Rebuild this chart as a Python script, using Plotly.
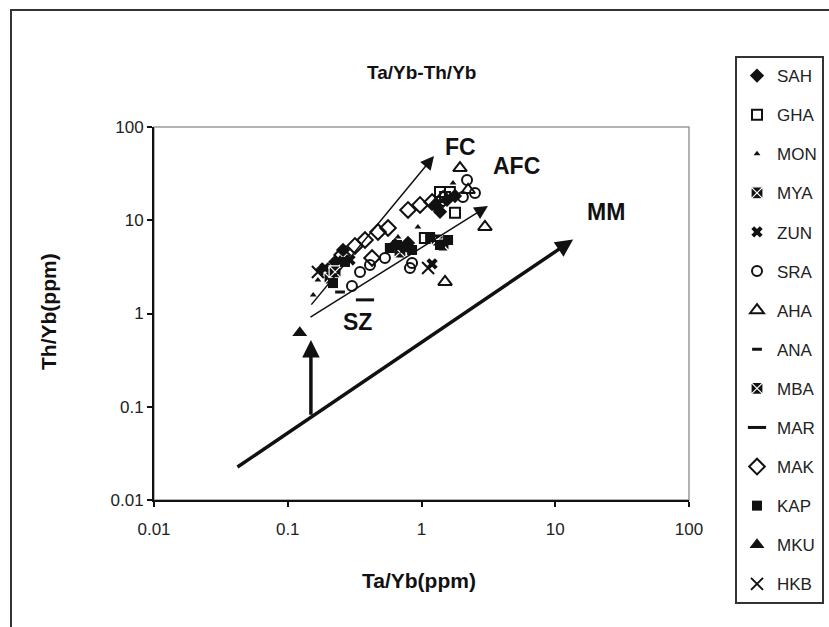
import math
import plotly.graph_objects as go

# ---------------- data (Ta/Yb, Th/Yb) ----------------
SAH_x = [0.18, 0.226, 0.259, 0.634, 0.715, 0.793, 1.26, 1.55, 1.78, 1.375]
SAH_y = [2.93, 3.57, 4.8, 5.43, 4.8, 5.7, 14.6, 16.5, 18.2, 12.3]
GHA_x = [1.375, 1.63, 1.78, 1.5, 1.06]
GHA_y = [20.1, 20.1, 12.0, 17.8, 6.45]
MON_x = [0.155, 0.168, 0.183, 0.94, 1.72, 0.246, 0.667]
MON_y = [1.58, 2.29, 3.23, 8.47, 25.1, 3.94, 6.61]
MYA_x = [0.207, 1.31, 0.69]
MYA_y = [2.4, 6.14, 4.56]
ZUN_x = [1.2, 0.19, 0.292]
ZUN_y = [3.4, 3.08, 3.75]
SRA_x = [0.302, 0.347, 0.533, 0.82, 0.85, 2.19, 2.51, 2.04, 0.412]
SRA_y = [1.97, 2.79, 3.94, 3.08, 3.48, 27.0, 19.6, 17.8, 3.31]
AHA_x = [1.94, 2.98, 1.5, 2.23]
AHA_y = [36.3, 8.47, 2.18, 21.1]
ANA_x = [0.246]
ANA_y = [1.7]
MBA_x = [0.226, 1.45]
MBA_y = [2.79, 5.43]
MAR_x = [0.378]
MAR_y = [1.4]
MAK_x = [0.318, 0.378, 0.473, 0.562, 0.793, 0.975, 1.2, 1.45, 0.255, 0.427]
MAK_y = [5.3, 6.14, 7.48, 8.26, 12.9, 14.6, 15.7, 16.9, 4.24, 3.94]
KAP_x = [0.268, 0.58, 0.656, 0.753, 0.85, 1.16, 1.375, 1.58, 0.218]
KAP_y = [3.57, 5.04, 5.43, 5.17, 4.8, 6.61, 5.43, 6.14, 2.12]
MKU_x = [0.123]
MKU_y = [0.62]
HKB_x = [1.12, 0.168]
HKB_y = [3.08, 2.79]

# trend vectors: start (x, y) -> end (x, y)
vector_names = ["FC", "AFC", "MM", "SZ"]
vector_start_x = [0.147, 0.144, 0.041, 0.149]
vector_start_y = [1.2, 0.895, 0.022, 0.079]
vector_end_x = [1.24, 3.14, 13.6, 0.149]
vector_end_y = [48.9, 14.2, 6.2, 0.52]

label_texts = ["FC", "AFC", "MM", "SZ"]
label_x = [1.97, 5.17, 23.9, 0.335]
label_y = [61.0, 38.2, 12.3, 0.81]

tick_vals = [0.01, 0.1, 1, 10, 100]
tick_text = ["0.01", "0.1", "1", "10", "100"]

FONT = "Liberation Sans, Arial, sans-serif"
BLACK = "#111111"

series = [
    ("SAH", SAH_x, SAH_y, dict(symbol="diamond", size=11, color=BLACK)),
    ("GHA", GHA_x, GHA_y, dict(symbol="square-open", size=10, color=BLACK, line=dict(width=2))),
    ("MON", MON_x, MON_y, dict(symbol="triangle-up", size=6, color=BLACK)),
    ("MYA", MYA_x, MYA_y, dict(symbol="square-x", size=12, color=BLACK, line=dict(width=1.2, color="white"))),
    ("ZUN", ZUN_x, ZUN_y, dict(symbol="x", size=10, color=BLACK)),
    ("SRA", SRA_x, SRA_y, dict(symbol="circle-open", size=10, color=BLACK, line=dict(width=2))),
    ("AHA", AHA_x, AHA_y, dict(symbol="triangle-up-open", size=12, color=BLACK, line=dict(width=2))),
    ("ANA", ANA_x, ANA_y, dict(symbol="line-ew-open", size=7, color=BLACK, line=dict(width=3))),
    ("MBA", MBA_x, MBA_y, dict(symbol="square-x", size=12, color=BLACK, line=dict(width=1.2, color="white"))),
    ("MAR", MAR_x, MAR_y, dict(symbol="line-ew-open", size=13, color=BLACK, line=dict(width=3))),
    ("MAK", MAK_x, MAK_y, dict(symbol="diamond-open", size=12, color=BLACK, line=dict(width=2))),
    ("KAP", KAP_x, KAP_y, dict(symbol="square", size=10, color=BLACK)),
    ("MKU", MKU_x, MKU_y, dict(symbol="triangle-up", size=13, color=BLACK)),
    ("HKB", HKB_x, HKB_y, dict(symbol="x-thin-open", size=12, color=BLACK, line=dict(width=2))),
]

fig = go.Figure()
for name, xs, ys, mk in series:
    fig.add_trace(go.Scatter(x=xs, y=ys, mode="markers", name=name, marker=mk,
                             legendgroup=name, cliponaxis=False))

annotations = []
widths = [1.5, 1.5, 3.5, 3.5]
sizes = [1.8, 1.8, 1.0, 1.0]
for i in range(len(vector_names)):
    annotations.append(dict(
        x=math.log10(vector_end_x[i]), y=math.log10(vector_end_y[i]),
        ax=math.log10(vector_start_x[i]), ay=math.log10(vector_start_y[i]),
        xref="x", yref="y", axref="x", ayref="y", text="",
        showarrow=True, arrowhead=2, arrowwidth=widths[i], arrowsize=sizes[i],
        arrowcolor=BLACK, standoff=0, startstandoff=0))
for t, lx, ly in zip(label_texts, label_x, label_y):
    annotations.append(dict(x=math.log10(lx), y=math.log10(ly), xref="x", yref="y",
                            xanchor="center", yanchor="middle",
                            text="<b>%s</b>" % t, showarrow=False,
                            font=dict(family=FONT, size=23, color=BLACK)))
# titles
annotations.append(dict(x=(421 - 154) / 535, y=(500 - 73) / 373, xref="paper", yref="paper",
                        xanchor="center", yanchor="middle",
                        text="<b>Ta/Yb-Th/Yb</b>", showarrow=False,
                        font=dict(family=FONT, size=19, color=BLACK)))
annotations.append(dict(x=(419 - 154) / 535, y=(500 - 580) / 373, xref="paper", yref="paper",
                        xanchor="center", yanchor="middle",
                        text="<b>Ta/Yb(ppm)</b>", showarrow=False,
                        font=dict(family=FONT, size=21, color=BLACK)))
annotations.append(dict(x=(48 - 154) / 535, y=(500 - 312) / 373, xref="paper", yref="paper",
                        xanchor="center", yanchor="middle",
                        text="<b>Th/Yb(ppm)</b>", showarrow=False, textangle=-90,
                        font=dict(family=FONT, size=21, color=BLACK)))

shapes = [
    # outer frame (only top & left edges fall inside the picture)
    dict(type="rect", xref="paper", yref="paper",
         x0=(11 - 154) / 535, x1=(860 - 154) / 535,
         y0=(500 - 660) / 373, y1=(500 - 10) / 373,
         line=dict(color="#333333", width=2), layer="below"),
    # plot area light frame
    dict(type="rect", xref="paper", yref="paper", x0=0, x1=1, y0=0, y1=1,
         line=dict(color="#9a9a9a", width=1.5), layer="below"),
]

axis_common = dict(type="log", range=[-2, 2], tickvals=tick_vals, ticktext=tick_text,
                   showgrid=False, zeroline=False, showline=True, linecolor=BLACK,
                   linewidth=2, ticks="outside", ticklen=5, tickwidth=1.5, tickcolor=BLACK,
                   tickfont=dict(family=FONT, size=17, color="#222222"))

fig.update_layout(
    width=829, height=627,
    margin=dict(l=154, r=140, t=127, b=127),
    paper_bgcolor="white", plot_bgcolor="white",
    xaxis=dict(axis_common, ticklabelstandoff=8),
    yaxis=dict(axis_common),
    annotations=annotations, shapes=shapes,
    showlegend=True,
    legend=dict(xref="container", yref="container", x=735 / 829, y=1 - 56 / 627,
                xanchor="left", yanchor="top", bordercolor="#333333", borderwidth=2,
                bgcolor="white", tracegroupgap=14, maxheight=600,
                font=dict(family=FONT, size=17, color="#222222")),
)

fig.write_html("out.html", config={"displayModeBar": False},
               post_script="document.body.style.margin='0';")
